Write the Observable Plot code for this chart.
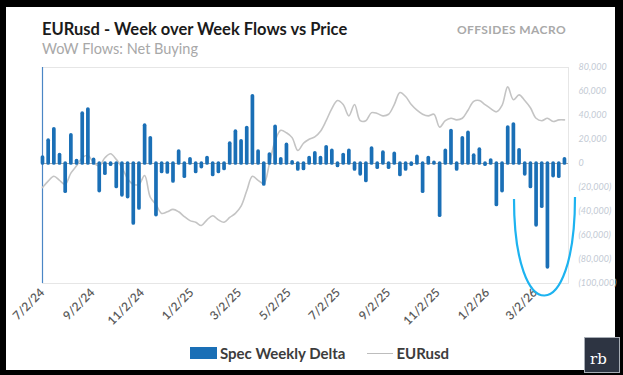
<!DOCTYPE html>
<html><head><meta charset="utf-8">
<script src="https://cdn.jsdelivr.net/npm/d3@7"></script>
<script src="https://cdn.jsdelivr.net/npm/@observablehq/plot@0.6"></script>
<style>
html,body{margin:0;padding:0;background:#000;width:623px;height:375px;overflow:hidden;font-family:Lato,sans-serif;}
#panel{position:absolute;left:6px;top:7px;width:609px;height:363px;background:#fff;}
#chart{position:absolute;left:0;top:0;}
.t{position:absolute;white-space:nowrap;line-height:1;}
#title{left:42px;top:21px;font-size:16.5px;font-weight:700;color:#1b1b1b;}
#sub{left:42px;top:42px;font-size:14.5px;color:#a8a8a8;}
#brand{right:57px;top:24px;font-size:12px;font-weight:700;color:#a9a9a9;letter-spacing:0.4px;}
#legend{position:absolute;left:190px;top:344px;display:flex;align-items:center;font-size:15px;font-weight:700;color:#3c3c3c;}
.sw{width:27px;height:12px;background:#1a6fb6;margin-right:3px;}
.ln{width:26px;height:0;border-top:1.5px solid #bdbdbd;margin:0 3px 0 22px;}
#logo{position:absolute;left:584px;top:337px;width:34px;height:34px;background:#2d3442;border:1px solid #a7adb5;color:#fff;font-family:"DejaVu Serif",serif;font-size:15px;}
#logo span{position:absolute;left:5px;top:12px;}
#arc{position:absolute;left:0;top:0;}
</style></head><body>
<div id="panel"></div>
<div id="chart"></div>
<div class="t" id="title">EURusd - Week over Week Flows vs Price</div>
<div class="t" id="sub">WoW Flows: Net Buying</div>
<div class="t" id="brand">OFFSIDES MACRO</div>
<div id="legend"><div class="sw"></div><span>Spec Weekly Delta</span><div class="ln"></div><span>EURusd</span></div>
<div id="logo"><span>rb</span></div>
<svg id="arc" width="623" height="375"><path d="M514,199 C514,328 575,328 575,197" fill="none" stroke="#1db3f0" stroke-width="2.2"/></svg>
<script>
// Weekly (Tuesday) CFTC dates
const firstWeek = "2024-07-02";
const lastWeek = "2026-04-07";
// Spec weekly delta (contracts)
const flows = [5000, 19000, 28500, 7000, -23500, 23500, 2000, 41500, 45000, 3000,
  -23000, -8500, -1000, -19500, -26500, -28000, -50000, -37500, 31500, 21000,
  -43000, -7000, -7500, -15000, 10000, -11000, 3500, -7000, -3000, 4500,
  -9500, -7000, -4500, 16500, 26500, 18500, 29500, 56000, 10000, -17500,
  7500, 30500, 3500, 15500, 1000, -5000, -4500, 4500, 8500, 4500,
  13500, 10500, -2000, 7000, 10500, -5000, -9000, -14500, 12500, -3500,
  9000, -3500, 8000, -9500, -5000, -1000, 5500, -23500, 4500, 500,
  -43500, 10500, 27000, -5000, 21000, 25500, 6500, 11500, -1000, 2500,
  -34500, -23000, 30000, 32500, 11000, -9000, -19500, -51500, -36000, -86500,
  -10500, -11000, 3500];
// EURusd spot
const eurusd = [1.072, 1.080, 1.086, 1.081, 1.076, 1.090, 1.099, 1.109, 1.112, 1.103,
  1.099, 1.109, 1.114, 1.107, 1.097, 1.083, 1.076, 1.076, 1.087, 1.060,
  1.051, 1.040, 1.042, 1.045, 1.042, 1.036, 1.031, 1.029, 1.025, 1.032,
  1.037, 1.032, 1.029, 1.035, 1.040, 1.049, 1.068, 1.086, 1.081, 1.077,
  1.102, 1.130, 1.143, 1.140, 1.134, 1.118, 1.127, 1.132, 1.135, 1.142,
  1.155, 1.170, 1.180, 1.175, 1.161, 1.175, 1.155, 1.155, 1.165, 1.164,
  1.161, 1.163, 1.175, 1.190, 1.185, 1.175, 1.168, 1.163, 1.161, 1.163,
  1.147, 1.155, 1.158, 1.156, 1.158, 1.168, 1.179, 1.180, 1.175, 1.170,
  1.166, 1.174, 1.197, 1.181, 1.187, 1.180, 1.171, 1.158, 1.155, 1.158,
  1.154, 1.156, 1.156];
const xTickLabels = ["2024-07-02","2024-09-02","2024-11-02","2025-01-02","2025-03-02","2025-05-02",
  "2025-07-02","2025-09-02","2025-11-02","2026-01-02","2026-03-02"];
const yTicks = [80000, 60000, 40000, 20000, 0, -20000, -40000, -60000, -80000, -100000];
const priceAxisDomain = [0.953, 1.221]; // hidden primary axis range for EURusd

const dates = d3.utcTuesday.range(new Date(firstWeek), d3.utcDay.offset(new Date(lastWeek), 1));
const toFlow = d3.scaleLinear().domain(priceAxisDomain).range([yTicks[yTicks.length-1], yTicks[0]]);
const rows = dates.map((d, i) => ({date: d, flow: flows[i], price: eurusd[i], py: toFlow(eurusd[i])}));
const fmt = v => v < 0 ? `(${d3.format(",")(-v)})` : d3.format(",")(v);

const chart = Plot.plot({
  width: 623, height: 340,
  marginLeft: 42, marginRight: 55, marginTop: 67, marginBottom: 57,
  style: {background: "transparent", fontFamily: "Lato, sans-serif", overflow: "visible"},
  x: {type: "utc", domain: [new Date("2024-07-02"), new Date("2026-04-12")]},
  y: {domain: [-100000, 80000]},
  marks: [
    Plot.frame({stroke: "#e6e6e6"}),
    Plot.ruleX([new Date("2024-07-02")], {stroke: "#4a86c5", strokeWidth: 1.2}),
    Plot.ruleY([0], {stroke: "#a6a6a6", strokeWidth: 1}),
    Plot.line(rows, {x: "date", y: "py", stroke: "#c4c4c4", strokeWidth: 1.6, curve: "catmull-rom"}),
    Plot.ruleX(rows, {x: "date", y1: 0, y2: "flow", stroke: "#1a6fb6", strokeWidth: 3.7, strokeLinecap: "round"}),
    Plot.axisY({anchor: "right", ticks: yTicks, tickFormat: fmt, tickSize: 0, tickPadding: 10,
      fill: "#c3cad4", fontSize: 9, fontStyle: "italic", textAnchor: "start", label: null}),
    Plot.axisX({ticks: xTickLabels.map(s => new Date(s)), tickFormat: d3.utcFormat("%-m/%-d/%y"),
      tickRotate: -45, tickSize: 0, tickPadding: 7, fontSize: 12, fontWeight: 600, fill: "#5a5a5a", label: null})
  ]
});
document.getElementById("chart").appendChild(chart);
</script>
</body></html>
